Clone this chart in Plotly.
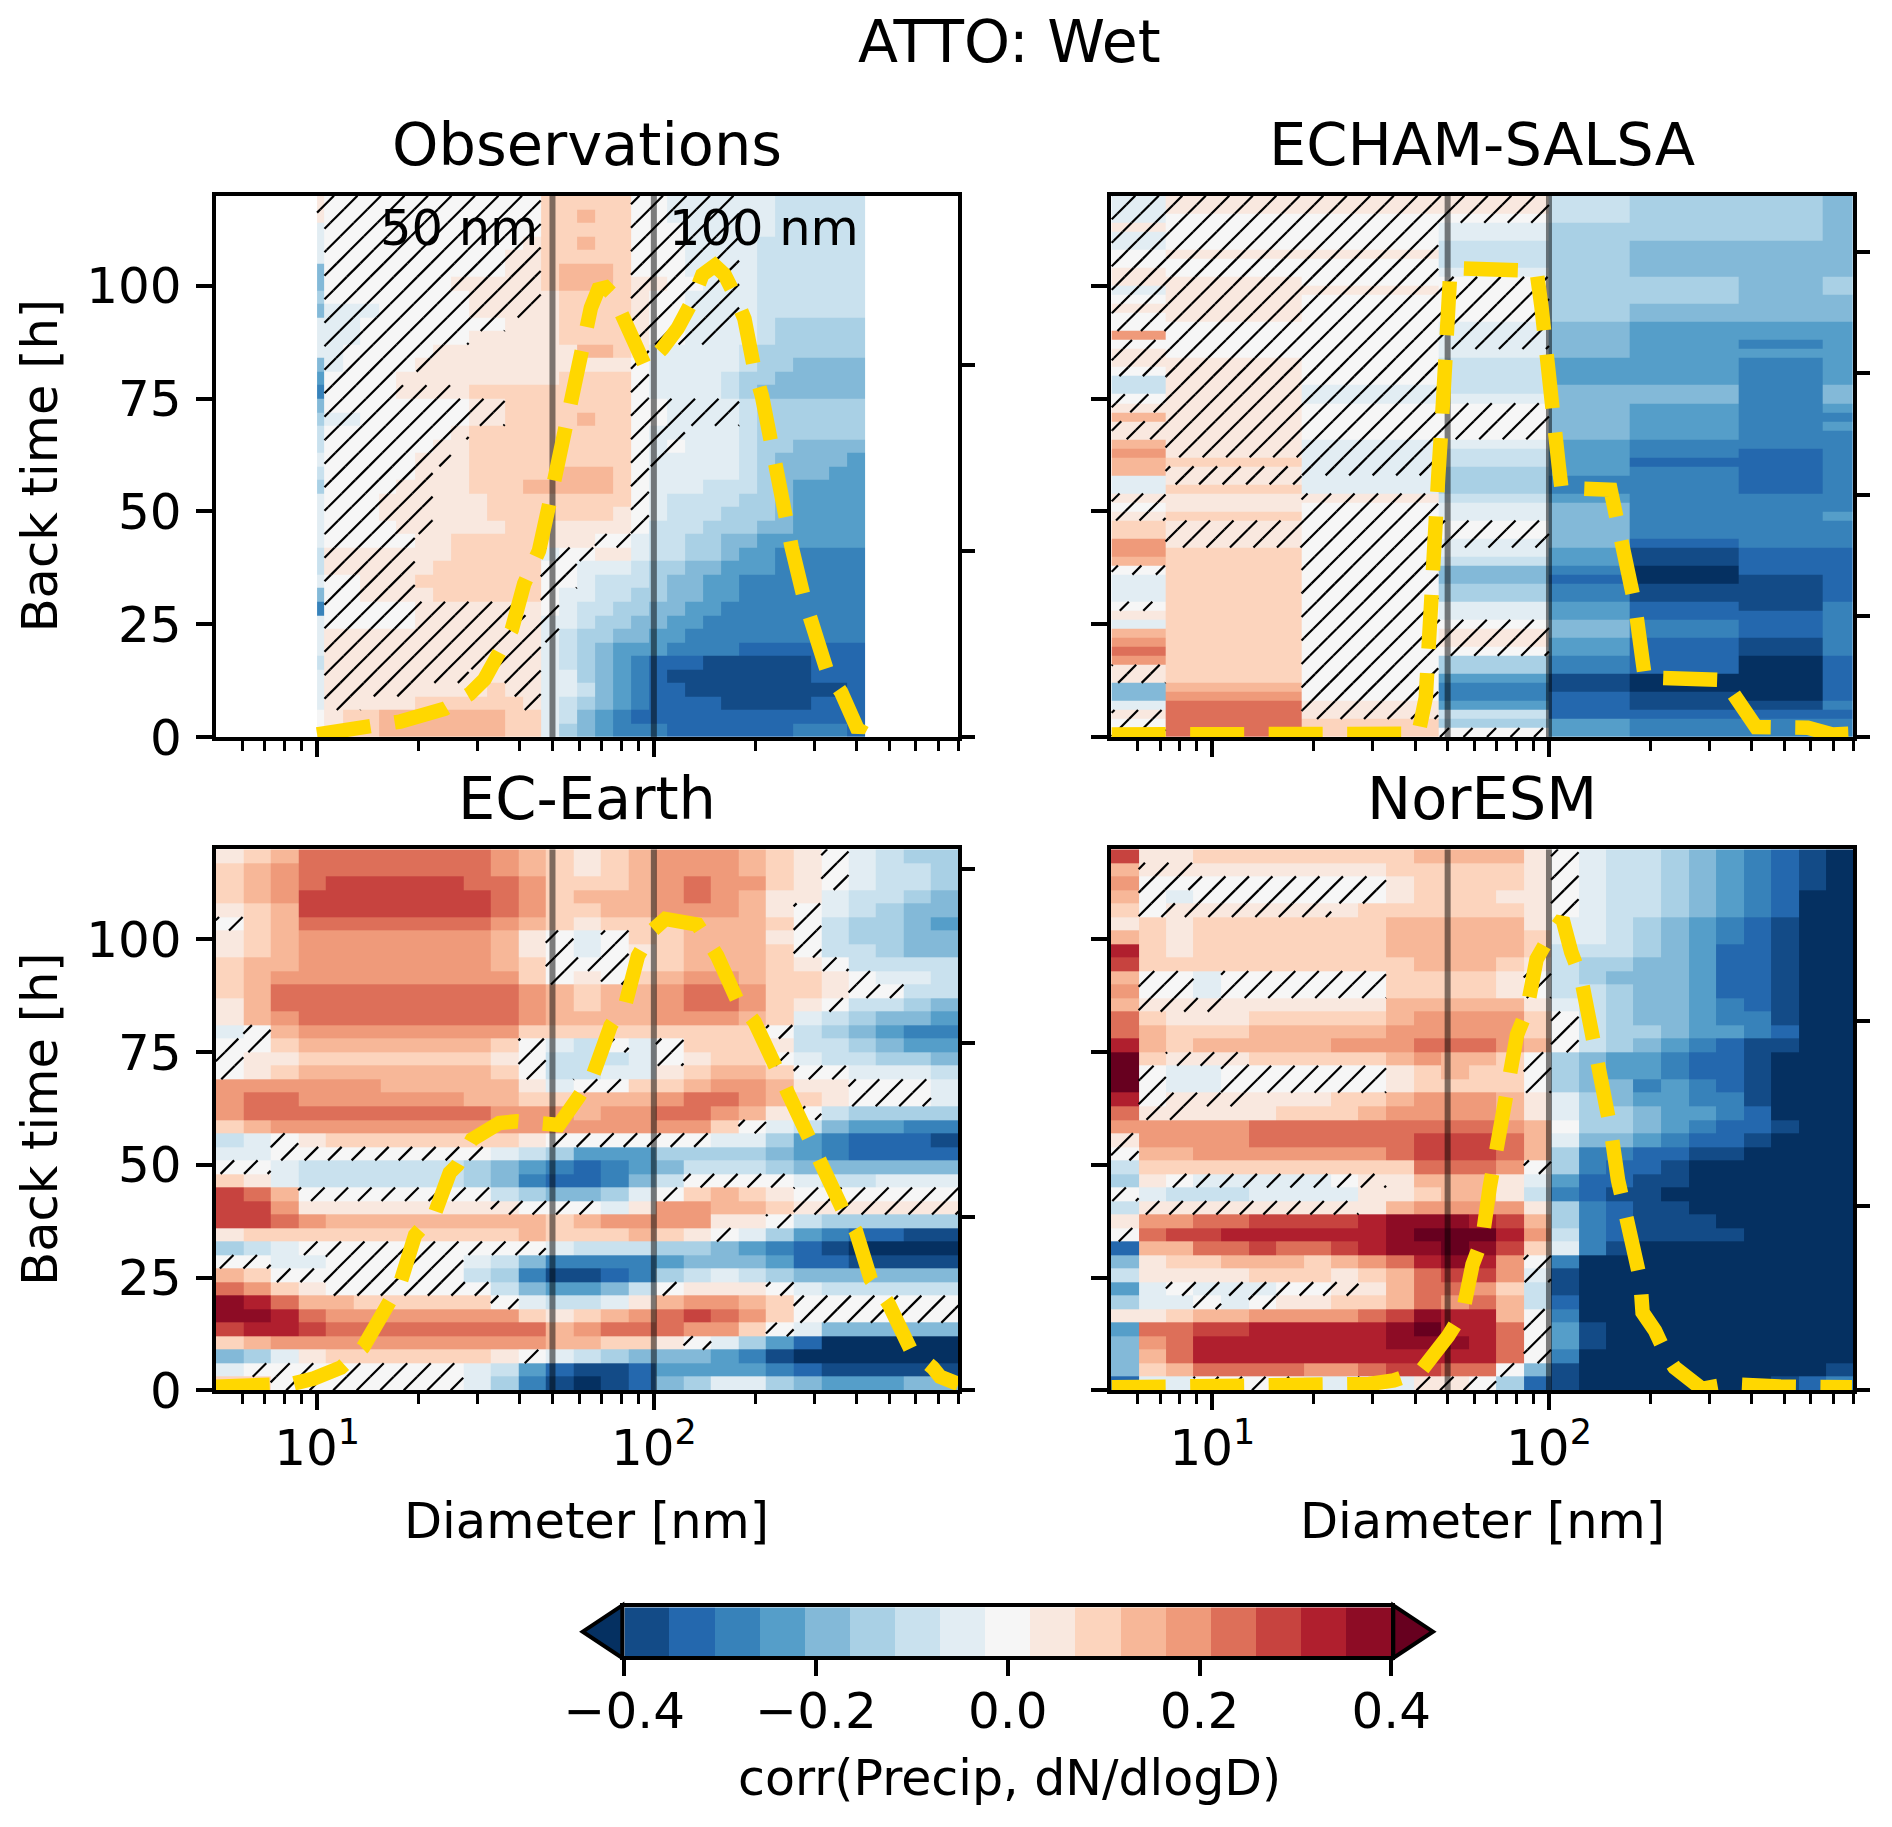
import math
import plotly.graph_objects as go

suptitle = "ATTO: Wet"
panel_titles = ["Observations", "ECHAM-SALSA", "EC-Earth", "NorESM"]
palette = ["#053061", "#134b87", "#2468ae", "#3782ba", "#559ec9", "#83b9d8", "#a9d0e5", "#c9e1ee", "#e2edf3",
           "#f6f6f6", "#f9e8df", "#fcd4bd", "#f7b798", "#ef9a7a", "#dd6f59", "#c7433f", "#b01f2e", "#8d0c25", "#67001f"]
corr_step = 0.8 / 17
cbar_ticks = [-0.4, -0.2, 0.0, 0.2, 0.4]
cbar_text = ["\u22120.4", "\u22120.2", "0.0", "0.2", "0.4"]
cbar_levels = list(range(-8, 9))
xticks = [10, 100]
xticktext = ["10<sup>1</sup>", "10<sup>2</sup>"]
xminor = [6, 7, 8, 9, 20, 30, 40, 50, 60, 70, 80, 90, 200, 300, 400, 500, 600, 700, 800]
yticks = [0, 25, 50, 75, 100]
ref_d = [50, 100]

# log10 diameter bin edges
obs_edges = [1.0, 1.022, 1.076, 1.129, 1.183, 1.236, 1.290, 1.343, 1.397, 1.450, 1.504, 1.557, 1.611, 1.664, 1.718, 1.771,
             1.825, 1.878, 1.932, 1.985, 2.039, 2.092, 2.146, 2.199, 2.253, 2.306, 2.360, 2.413, 2.467, 2.520, 2.574, 2.627]
salsa_edges = [0.701, 0.861, 1.265, 1.671, 2.0, 2.240, 2.564, 2.813, 2.903]
model_edges = [0.699, 0.781, 0.862, 0.944, 1.026, 1.108, 1.189, 1.271, 1.353, 1.434, 1.516, 1.598, 1.679, 1.761,
               1.843, 1.925, 2.006, 2.088, 2.170, 2.251, 2.333, 2.415, 2.497, 2.578, 2.660, 2.742, 2.823, 2.905]
time_3h = list(range(0, 123, 3))
time_2h = list(range(0, 122, 2))

# Row strings, latest back time first. 1-9 positive colour level, a-i negative level,
# 0 = level 0 hatched, o = level 0 plain, x = +1 hatched, y = -1 hatched.
obs_rows = [
"x0000000000002222200yyyyaabbbbb", "x0000000000002232200yyyyaabbbbb", "a00000000000022222000yyyaabbbbb",
"a00000000000x22322000yyyabbbbbb", "a0000000000xx22222000yyyabbbbbb", "d0000000000xx23332000yyyabbbbbb",
"d0000000xxxxx23332xx00yyabbbbbb", "c00000000xxxx12222x00yyyabbbbbb", "dyyy00000xxxx12222x00yyyabbbbbb",
"ayy000000001112222x00yyyabccccc", "ayy000000111112222x00yyaabccccc", "ay00000x1111111332xaaaaabcccccc",
"dy0000x111111111110aaaaabccdddd", "e000011111111122220aaaabccddddd", "f0000xxx12222222220aaaabcdddddd",
"d00000000xx222222200yyyybcccccc", "cyy000000xx222232200yyyybcccccc", "b0000000x2222222220yyaaabcccccc",
"b000000x12222222220y0aaabccdddd", "a00000xx12222222220yaaaabcdddde", "b00000x112222233320aaaaabcdddee",
"c0000xx112223333320aaabbbcdeeee", "a000xxx111222222220abbbbccdeeee", "a000xxx111222222210abbbcccdeeee",
"a0000xx111122111110bbbcccddeeee", "a00000112222211100abbccddeeeeee", "bxxxxx1122222y0011abbccdeefffff",
"bxxxxx122222200aaabccddeeefffff", "a00xxx222222200abbbcddeefffffff", "d00xxx12222220aabbccddeefffffff",
"f00000xxxxxx10abbccddeeffffffff", "a00000xxxxxxxyabccddeefffffffff", "axxxxxxxxxxxxybccddeeffffffffff",
"axxxxxxxxxxxxabcdeeeffffggggggg", "bxxxxxxxxxxxxabcdefggghhhhhhggg", "axxxxxxxx11xxaacdefghhhhhhhhggg",
"axxxxx11112xxaabdefgghhhhhhhhhg", "axx111222222xabcdefgggghhhhhggg", "o122333333322abdefggggggggggggg",
"o122333333322acdefffgggggggfffg",
]
salsa_rows = [
"yxxxbccd", "yxxxbccd", "y000bccd", "x00acccd", "y00acccd", "y00bcddd", "0xxbcddd", "000bcddd", "x00acddd", "xx00ccdc",
"yxx0ccdc", "0x00ccdd", "xx00cddd", "0x00cddd", "000ydeee", "400ydeee", "000ydefe", "x00adeee", "xx0beefe", "0x0beefe",
"bx0beefe", "bxybddfd", "0xyaddfd", "xx00defe", "3x00deff", "xx00defe", "xx00deff", "3xyaefff", "4xybefgf", "32ybeggf",
"3xycefgf", "axacffgf", "a2acffgf", "x1xbefff", "010adfff", "x20adffe", "2x00dfff", "2x00dfff", "4x0ydgff", "420aehgg",
"320behgg", "020dfigg", "a20dgihg", "a20cfhhg", "a20cfhhg", "020aeghf", "120aeggf", "a200dfgf", "320xdfgf", "420xeghf",
"5200eghf", "420cfgig", "x20cfgig", "x20ehiig", "d30fhiig", "d40fghig", "a5xeghhf", "x5xbgggg", "052cefff", "x520efff",
]
ec_rows = [
"12355555554321234443210abcc", "23455555554321234443210abbc", "23456666655422234544210abbc",
"2346666666542333454311abbcd", "1236666666542233444310abcdd", "0235555555432122233320bccde",
"1234444444310a02233310bccdd", "1234444444310a01233320bbcdd", "23344444443200012333210bbbb",
"234444444442010234432210aab", "2355555555543233455422100bb", "13555555555432334554210bbcd",
"134555555554333344432abcdde", "a03444444442222222220bcdeff", "002333333320ab0a02221bbcdee",
"011222222210bbba01220abbccd", "012333333320bbaa1233200aaab", "444444333331a0022344311000a",
"45544444433223334554321000a", "4555555555444344554310bcccc", "23444444444444444420abdeeff",
"ba0122222221000000aacefgggh", "aa00000000abceeeccccdefgggg", "00abbbbbbcdefgfedbbbcdddddd",
"21abbbbbbcdfggfdb0000abbaaa", "6530000000bcddca02321000000", "6641111111x000a144332xxxxxx",
"665433333333234444110bccccc", "1222222222232223210acefgghh", "cba000000000abbbccdefghiiii",
"00aa00000abdffffedddegghhhh", "320000000bcfhhgfcbabcdddddd", "5421000000bdeedb01110abbbbb",
"87533222220abba134432000000", "887544444442123456542000000", "677655555555345554420addddd",
"234444444444332210acegiiiii", "dca122222210abcdddefhiiiiii", "a00000000abeghhgeeeefghhhhh",
"220000000acfhihgdcaacdeeedd",
]
nor_rows = [
"61122222222333310abbcdefghi", "3xx11111112222210abbcdefghi", "40000000001222210abbcdefghi",
"30a00000001222110abbcdefgii", "20xxxxxx122222210abbcdefgii", "1212222222333331aabcdefghii",
"3212222222333332aabcdefghii", "7212222222333332bbbcdegghii", "6222222222233321bccddegghii",
"300a000000222210bcdddegghii", "400a000000222210bbcddegghii", "3xxx111111333331abcddefghii",
"52111222223444420bcddeffhii", "53222333334444420bccdeefgii", "73233333444555430bcdefghhii",
"92xxx22222343320cdeefgghiii", "90aa000000123220cdeefgghiii", "90aa000000122220cddfefghiii",
"70xxx11122344431acdeeffhiii", "5xx1112223444431accdeefgiii", "4444455555555543occdefgghii",
"x444455555566653addefgghiii", "0334444444566653cffgghhiiii", "b222222222255540cfgghiiiiii",
"c10yyyyy0x13331aegghhiiiiii", "0abbbaaaa112331bfghhiiiiiii", "bxxxxxxxx1344441cfghhiiiiii",
"1445566667888763cfghhhiiiii", "0566777777899974bfghhhhiiii", "g335565567889862afhiiiiiiii",
"d122333234578740fiiiiiiiiii", "b11112221235664yhiiiiiiiiii", "ea0yyy00x135542bhiiiiiiiiii",
"caa0a0112235453bgiiiiiiiiii", "1123344445687730fiiiiiiiiii", "e556677777897750ehiiiiiiiii",
"d457777777888750ehiiiiiiiii", "d357777777777750fiiiiiiiiii", "d23555544566550dhiiiiiiiiih",
"gaa0000aa0axx0cghiiiiiiihgf",
]

# dN/dlogD size distributions: log10 diameter and value
obs_dist_logd = [1.000, 1.085, 1.159, 1.247, 1.379, 1.453, 1.497, 1.541, 1.578, 1.615, 1.659, 1.688, 1.710, 1.732, 1.754, 1.776,
                 1.799, 1.813, 1.835, 1.857, 1.879, 1.909, 1.946, 1.975, 2.026, 2.071, 2.115, 2.144, 2.181, 2.210, 2.240, 2.269,
                 2.299, 2.321, 2.350, 2.365, 2.387, 2.409, 2.446, 2.475, 2.497, 2.515, 2.556, 2.585, 2.607, 2.622]
obs_dist = [14, 38, 49, 83, 152, 231, 310, 449, 577, 824, 1002, 1240, 1437, 1635, 1813, 2050,
            2189, 2307, 2406, 2416, 2376, 2248, 2129, 1991, 2090, 2198, 2347, 2485, 2534, 2485, 2376, 2248,
            1971, 1833, 1566, 1418, 1160, 1022, 745, 567, 409, 350, 241, 113, 34, 83]
salsa_dist_logd = [0.701, 1.231, 1.305, 1.378, 1.612, 1.634, 1.649, 1.663, 1.671, 1.685, 1.700, 1.704, 1.707, 1.729, 1.934, 1.963,
                   1.978, 1.993, 2.015, 2.029, 2.037, 2.183, 2.198, 2.227, 2.256, 2.278, 2.285, 2.520, 2.578, 2.615, 2.769, 2.842, 2.893]
salsa_dist = [21, 27, 52, 27, 27, 325, 1235, 1690, 2146, 2753, 3360, 3663, 3845, 3867, 3867, 3845,
              3542, 3056, 2601, 2237, 2055, 2040, 1842, 1448, 1083, 628, 492, 470, 203, 82, 76, 21, 27]
ec_dist_logd = [0.699, 0.857, 0.924, 0.990, 1.071, 1.137, 1.203, 1.247, 1.291, 1.350, 1.394, 1.416, 1.460, 1.541, 1.593, 1.688,
                1.718, 1.776, 1.821, 1.872, 1.916, 1.953, 1.997, 2.034, 2.129, 2.188, 2.247, 2.299, 2.365, 2.401, 2.460, 2.497,
                2.563, 2.600, 2.644, 2.696, 2.762, 2.828, 2.850, 2.904]
ec_dist = [21, 25, 36, 68, 131, 248, 491, 618, 893, 1020, 1253, 1295, 1444, 1539, 1549, 1518,
           1528, 1687, 1825, 2100, 2227, 2502, 2650, 2714, 2682, 2502, 2249, 2121, 1846, 1719, 1444, 1317,
           1031, 915, 639, 502, 237, 131, 78, 36]
nor_dist_logd = [0.701, 1.085, 1.305, 1.466, 1.539, 1.619, 1.700, 1.744, 1.773, 1.802, 1.824, 1.839, 1.861, 1.883, 1.905, 1.934,
                 1.963, 2.000, 2.040, 2.066, 2.095, 2.124, 2.139, 2.168, 2.183, 2.205, 2.220, 2.249, 2.271, 2.278, 2.315, 2.351,
                 2.373, 2.454, 2.534, 2.688, 2.769, 2.900]
nor_dist = [16, 16, 20, 34, 54, 103, 293, 422, 681, 821, 1100, 1239, 1518, 1737, 1926, 2056,
            2335, 2454, 2554, 2375, 2236, 1967, 1837, 1548, 1418, 1140, 1000, 721, 602, 422, 323, 183,
            124, 8, 34, 20, 20, 16]
# right-hand axis of each panel
dist_ticks = [[0, 1000, 2000], [0, 1000, 2000, 3000, 4000], [0, 1000, 2000, 3000], [0, 1000, 2000]]
dist_top = [2910, 4465, 3115, 2931]

FW, FH = 1892, 1827
boxes = [(215.7, 958, 195.7, 737), (1111, 1853, 195.7, 737), (215.7, 958, 849.3, 1390.3), (1111, 1853, 849.3, 1390.3)]
xr = [math.log10(5), math.log10(800)]
TICK = 50
LABEL = 49.5
FONT = "DejaVu Sans"
LEV = {str(i): i for i in range(1, 10)}
LEV.update({c: -(i + 1) for i, c in enumerate("abcdefghi")})
LEV.update({"0": 0, "o": 0, "x": 1, "y": -1})


def parse(rows, ncol):
    rows = [(r + r[-1] * ncol)[:ncol] for r in rows][::-1]
    z = [[LEV[c] * corr_step for c in r] for r in rows]
    mask = [[c in "0xy" for c in r] for r in rows]
    return z, mask


def hatch(edges, times, mask, box):
    w, h = box[1] - box[0], box[3] - box[2]
    s = 23.5
    to_u = lambda l: (l - xr[0]) / (xr[1] - xr[0]) * w
    to_v = lambda t: t / 120 * h
    xs, ys = [], []
    for r, row in enumerate(mask):
        v0, v1 = to_v(times[r]), to_v(times[r + 1])
        c = 0
        while c < len(row):
            if not row[c]:
                c += 1
                continue
            e = c
            while e + 1 < len(row) and row[e + 1]:
                e += 1
            u0, u1 = to_u(edges[c]), to_u(edges[e + 1])
            k0 = math.floor((v0 - u1) / s)
            k1 = math.ceil((v1 - u0) / s)
            for k in range(k0, k1 + 1):
                off = k * s
                a = max(u0, v0 - off)
                b = min(u1, v1 - off)
                if b > a:
                    xs += [10 ** (xr[0] + a / w * (xr[1] - xr[0])), 10 ** (xr[0] + b / w * (xr[1] - xr[0])), None]
                    ys += [(a + off) / h * 120, (b + off) / h * 120, None]
            c = e + 1
    return xs, ys


panels = [
    (obs_edges, time_3h, obs_rows, obs_dist_logd, obs_dist),
    (salsa_edges, time_2h, salsa_rows, salsa_dist_logd, salsa_dist),
    (model_edges, time_3h, ec_rows, ec_dist_logd, ec_dist),
    (model_edges, time_3h, nor_rows, nor_dist_logd, nor_dist),
]
colorscale = []
for i, col in enumerate(palette):
    colorscale += [[i / 19, col], [(i + 1) / 19, col]]
zlim = 9.5 * corr_step

fig = go.Figure()
layout = {}
ax_style = dict(showline=True, linewidth=4, linecolor="black", mirror=True, showgrid=False, zeroline=False, automargin=False,
                ticks="outside", ticklen=16, tickwidth=3.5, tickcolor="black",
                tickfont=dict(family=FONT, size=TICK, color="black"))
annotations = []


def text_note(text, px, py, size, angle=0):
    annotations.append(dict(text=text, xref="paper", yref="paper", x=px / FW, y=1 - py / FH, xanchor="center", yanchor="middle",
                            showarrow=False, textangle=angle, font=dict(family=FONT, size=size, color="black")))


for i, (edges, times, rows, dlog, dist) in enumerate(panels):
    n = str(i + 1) if i else ""
    box = boxes[i]
    xname, yname = "x" + n, "y" + n
    tw = "y" + str(i + 5)
    z, mask = parse(rows, len(edges) - 1)
    fig.add_trace(go.Heatmap(x=[10 ** e for e in edges], y=times, z=z, xaxis=xname, yaxis=yname, zmin=-zlim, zmax=zlim,
                             colorscale=colorscale, showscale=False, hoverinfo="skip"))
    hx, hy = hatch(edges, times, mask, box)
    fig.add_trace(go.Scatter(x=hx, y=hy, xaxis=xname, yaxis=yname, mode="lines", showlegend=False, hoverinfo="skip",
                             line=dict(color="black", width=2.2)))
    for d in ref_d:
        fig.add_trace(go.Scatter(x=[d, d], y=[0, 120], xaxis=xname, yaxis=yname, mode="lines", showlegend=False,
                                 hoverinfo="skip", line=dict(color="rgba(0,0,0,0.5)", width=6)))
    fig.add_trace(go.Scatter(x=[10 ** v for v in dlog], y=dist, xaxis=xname, yaxis=tw, mode="lines", showlegend=False,
                             hoverinfo="skip", line=dict(color="#FFD700", width=14.5, dash="54px,24.5px")))
    bottom = i >= 2
    left = i in (0, 2)
    layout["xaxis" + n] = dict(ax_style, type="log", range=xr, anchor=yname, domain=[box[0] / FW, box[1] / FW],
                               tickmode="array", tickvals=xticks, ticktext=xticktext, showticklabels=bottom, ticklabelstandoff=-5,
                               minor=dict(ticks="outside", ticklen=10, tickwidth=3, tickcolor="black", tickmode="array",
                                          tickvals=xminor, showgrid=False))
    layout["yaxis" + n] = dict(ax_style, range=[0, 120], anchor=xname, domain=[1 - box[3] / FH, 1 - box[2] / FH],
                               tickmode="array", tickvals=yticks, showticklabels=left, ticklabelstandoff=4)
    layout["yaxis" + str(i + 5)] = dict(overlaying=yname, anchor=xname, side="right", range=[0, dist_top[i]], showgrid=False,
                                        zeroline=False, showline=False, tickmode="array", tickvals=dist_ticks[i], automargin=False,
                                        showticklabels=False, ticks="outside", ticklen=16, tickwidth=3.5, tickcolor="black")
    text_note(panel_titles[i], (box[0] + box[1]) / 2, box[2] - 51, 59)
    if left:
        text_note("Back time [h]", 40, (box[2] + box[3]) / 2, LABEL, -90)
    if bottom:
        text_note("Diameter [nm]", (box[0] + box[1]) / 2, 1521, LABEL)

text_note(suptitle, 1009, 42, 58.5)
text_note("corr(Precip, dN/dlogD)", 1009, 1778, 49)
annotations.append(dict(text="50 nm", xref="x", yref="y", x=math.log10(50), y=112.8, xanchor="right", xshift=-12, yanchor="middle",
                        showarrow=False, font=dict(family=FONT, size=49.5, color="black")))
annotations.append(dict(text="100 nm", xref="x", yref="y", x=2, y=112.8, xanchor="left", xshift=13, yanchor="middle",
                        showarrow=False, font=dict(family=FONT, size=49.5, color="black")))

# colour bar
cb_box = (624.3, 1391.3, 1607.3, 1656)
cb_edges = [(l - 0.5) * corr_step for l in cbar_levels] + [(cbar_levels[-1] + 0.5) * corr_step]
fig.add_trace(go.Heatmap(x=cb_edges, y=[0, 1], z=[[l * corr_step for l in cbar_levels]], xaxis="x5", yaxis="y9", zmin=-zlim, zmax=zlim,
                         colorscale=colorscale, showscale=False, hoverinfo="skip"))
layout["xaxis5"] = dict(ax_style, range=[-0.4, 0.4], anchor="y9", domain=[cb_box[0] / FW, cb_box[1] / FW], tickmode="array",
                        tickvals=cbar_ticks, ticktext=cbar_text, ticklabelstandoff=-8)
layout["yaxis9"] = dict(range=[0, 1], anchor="x5", domain=[1 - cb_box[3] / FH, 1 - cb_box[2] / FH], showticklabels=False, ticks="",
                        showgrid=False, zeroline=False, showline=True, linewidth=4, linecolor="black", mirror=True, automargin=False)


def tri(x_base, x_tip, colour):
    ymid = (cb_box[2] + cb_box[3]) / 2
    path = f"M {x_base/FW} {1-(cb_box[2]-2)/FH} L {x_tip/FW} {1-ymid/FH} L {x_base/FW} {1-(cb_box[3]+2)/FH} Z"
    return dict(type="path", xref="paper", yref="paper", path=path, fillcolor=colour, line=dict(color="black", width=4))


fig.update_layout(
    width=FW, height=FH, autosize=False, margin=dict(l=0, r=0, t=0, b=0, autoexpand=False), paper_bgcolor="white", plot_bgcolor="white",
    font=dict(family=FONT, color="black"), showlegend=False,
    annotations=annotations,
    shapes=[tri(cb_box[0] - 2, 582.7, palette[0]), tri(cb_box[1] + 2, 1433, palette[-1])],
    **layout,
)
fig.write_html("out.html", config=dict(displayModeBar=False), post_script="document.body.style.margin='0';")
